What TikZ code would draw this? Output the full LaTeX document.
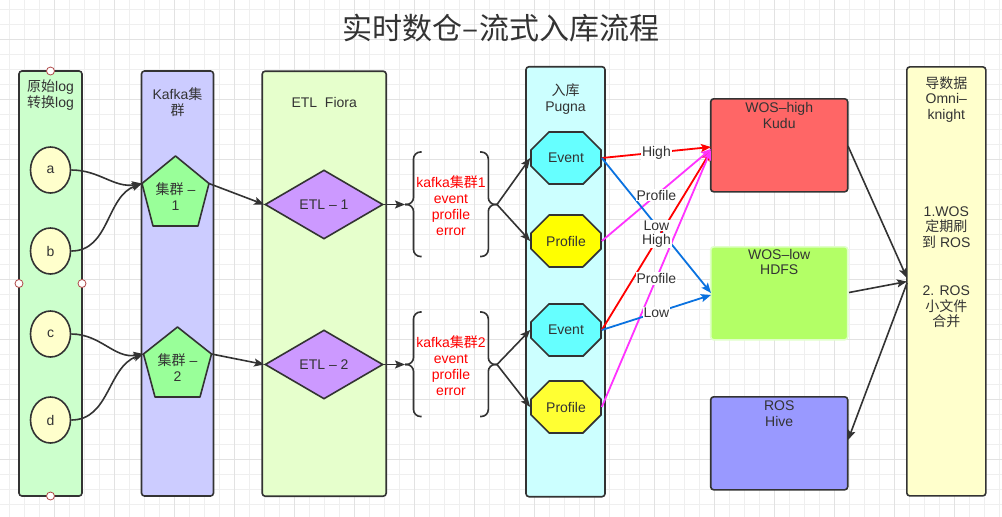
\documentclass[tikz,border=0pt]{standalone}
\usepackage{fontspec}
\setmainfont{Liberation Sans}
\newfontfamily\cjk{Noto Sans CJK SC}
\usetikzlibrary{shapes.geometric,shapes.misc,arrows.meta,calc}
\definecolor{ink}{HTML}{333333}
\definecolor{gridminor}{HTML}{EFEFEF}
\definecolor{gridmajor}{HTML}{E2E2E2}
\definecolor{cA}{HTML}{CCFFCC}
\definecolor{cB}{HTML}{CCCCFF}
\definecolor{cC}{HTML}{E6FFCC}
\definecolor{cD}{HTML}{CCFFFF}
\definecolor{cE}{HTML}{FFFFCC}
\definecolor{ellfill}{HTML}{FFFFCC}
\definecolor{pentfill}{HTML}{99FF99}
\definecolor{diafill}{HTML}{CC99FF}
\definecolor{evfill}{HTML}{66FFFF}
\definecolor{prfill}{HTML}{FFFF00}
\definecolor{prfillb}{HTML}{FFFF33}
\definecolor{hifill}{HTML}{FF6666}
\definecolor{lofill}{HTML}{B3FF66}
\definecolor{lodraw}{HTML}{E0FFC8}
\definecolor{rofill}{HTML}{9999FF}
\definecolor{redline}{HTML}{FF0000}
\definecolor{magline}{HTML}{FF33FF}
\definecolor{blueline}{HTML}{0A72E0}
\definecolor{handlered}{HTML}{B04848}
\tikzset{
  base/.style={draw=ink, line width=1.6pt, text=ink, font=\fontsize{14}{16}\selectfont},
  colbox/.style={base, rectangle, rounded corners=3pt, inner sep=0pt},
  txt/.style={text=ink, font=\fontsize{14}{15.8}\selectfont, align=center, inner sep=0pt},
  redtxt/.style={text=redline, font=\fontsize{14}{15.8}\selectfont, align=center, inner sep=0pt},
  ell/.style={base, ellipse, minimum width=40pt, minimum height=46pt, inner sep=0pt, fill=ellfill},
  pent/.style={draw=ink, line width=1.6pt, fill=pentfill, line join=round},
  dia/.style={base, diamond, minimum width=118pt, minimum height=69pt, inner sep=0pt, fill=diafill},
  oct/.style={base, chamfered rectangle, chamfered rectangle xsep=13pt, chamfered rectangle ysep=13pt, minimum width=70pt, minimum height=52pt, inner sep=0pt},
  wbox/.style={base, rectangle, rounded corners=3pt, minimum width=137pt, minimum height=93pt, inner sep=0pt},
  arr/.style={draw=ink, line width=1.6pt, -{Stealth[length=10pt,width=8pt,inset=2pt]}},
  carr/.style={line width=1.8pt, -{Stealth[length=10pt,width=8pt,inset=2pt]}},
  lab/.style={fill=white, text=ink, font=\fontsize{14}{16}\selectfont, inner sep=1pt},
  bracepath/.style={draw=ink, line width=1.6pt, rounded corners=7pt},
  handle/.style={circle, draw=handlered, fill=white, line width=0.8pt, minimum size=8pt, inner sep=0pt},
}
\begin{document}
\begin{tikzpicture}[x=1pt,y=-1pt]
\useasboundingbox (0,0) rectangle (1002,517);
\fill[white] (0,0) rectangle (1002,517);
% grid
\foreach \i in {0,...,66} {\draw[gridminor, line width=0.8pt] ({9.3+15*\i},0) -- ({9.3+15*\i},517);}
\foreach \i in {0,...,34} {\draw[gridminor, line width=0.8pt] (0,{9.3+15*\i}) -- (1002,{9.3+15*\i});}
\foreach \i in {0,...,16} {\draw[gridmajor, line width=0.9pt] ({54.3+60*\i},0) -- ({54.3+60*\i},517);}
\foreach \i in {0,...,8} {\draw[gridmajor, line width=0.9pt] (0,{39.3+60*\i}) -- (1002,{39.3+60*\i});}

% title
\node[text=ink, inner sep=0pt, font=\cjk\fontsize{30}{34}\selectfont] (title) at (501,28) {实时数仓–流式入库流程};

% columns
\node[colbox, fill=cA, minimum width=63pt, minimum height=425pt] (col1) at (50.5,283.5) {};
\node[colbox, fill=cB, minimum width=72pt, minimum height=425pt] (col2) at (177.5,283.5) {};
\node[colbox, fill=cC, minimum width=124pt, minimum height=425pt] (col3) at (324.2,283.7) {};
\node[colbox, fill=cD, minimum width=79pt, minimum height=430pt] (col4) at (565.5,281.7) {};
\node[colbox, fill=cE, minimum width=79pt, minimum height=429pt] (col5) at (946.3,281.4) {};

\node[txt] (col1t) at (50.5,94.7) {{\cjk 原始}log\\{\cjk 转换}log};
\node[txt] (col2t) at (177.5,102.5) {Kafka{\cjk 集}\\{\cjk 群}};
\node[txt] (col3t) at (324.2,102.3) {ETL~~Fiora};
\node[txt] (col4t) at (565.5,99) {{\cjk 入库}\\Pugna};
\node[txt] (col5t) at (946.3,99.5) {{\cjk 导数据}\\Omni–\\knight};
\node[txt] (col5a) at (946.3,227.5) {1.WOS\\{\cjk 定期刷}\\{\cjk 到} ROS};
\node[txt] (col5b) at (946.3,306.8) {2. ROS\\{\cjk 小文件}\\{\cjk 合并}};

% selection handles
\node[handle] (h1) at (50.5,71) {};
\node[handle] (h2) at (19,283.5) {};
\node[handle] (h3) at (82,283.5) {};
\node[handle] (h4) at (50.5,496) {};

% ellipses
\node[ell] (a) at (50.5,170) {a};
\node[ell] (b) at (50.5,251) {b};
\node[ell] (c) at (50.5,334) {c};
\node[ell] (d) at (50.5,420) {d};

% pentagons
\draw[pent] (175.5,156) -- (142,183.5) -- (153,226) -- (198,226) -- (209,183.5) -- cycle;
\coordinate (p1w) at (142,183.5);
\coordinate (p1e) at (209,183.5);
\node[txt] (p1) at (175.5,196.3) {{\cjk 集群} –\\1};
\draw[pent] (177.5,327) -- (143.5,354) -- (155,397) -- (200,397) -- (211.5,354) -- cycle;
\coordinate (p2w) at (143.5,354);
\coordinate (p2e) at (211.5,354);
\node[txt] (p2) at (177.5,367.7) {{\cjk 集群} –\\2};

% diamonds
\node[dia] (e1) at (324,204.5) {ETL – 1};
\node[dia] (e2) at (324,364.5) {ETL – 2};

% braces
\draw[bracepath] (421.5,152) -- (413.5,152) -- (413.5,204.5) -- (405,204.5);
\draw[bracepath] (405,204.5) -- (413.5,204.5) -- (413.5,256.5) -- (421.5,256.5);
\draw[bracepath] (480,152) -- (488.3,152) -- (488.3,204.5) -- (497,204.5);
\draw[bracepath] (497,204.5) -- (488.3,204.5) -- (488.3,256.5) -- (480,256.5);
\coordinate (b1l) at (405,204.5);
\coordinate (b1r) at (497,204.5);
\draw[bracepath] (421.5,312) -- (413.5,312) -- (413.5,364.5) -- (405,364.5);
\draw[bracepath] (405,364.5) -- (413.5,364.5) -- (413.5,416.5) -- (421.5,416.5);
\draw[bracepath] (480,312) -- (488.3,312) -- (488.3,364.5) -- (497,364.5);
\draw[bracepath] (497,364.5) -- (488.3,364.5) -- (488.3,416.5) -- (480,416.5);
\coordinate (b2l) at (405,364.5);
\coordinate (b2r) at (497,364.5);
\node[redtxt] (k1) at (451,205.5) {kafka{\cjk 集群}1\\event\\profile\\error};
\node[redtxt] (k2) at (451,365.5) {kafka{\cjk 集群}2\\event\\profile\\error};

% octagons
\node[oct, fill=evfill] (ev1) at (566,158) {Event};
\node[oct, fill=prfill] (pr1) at (566,241) {Profile};
\node[oct, fill=evfill] (ev2) at (566,330) {Event};
\node[oct, fill=prfillb] (pr2) at (566,407) {Profile};

% storage boxes
\node[wbox, fill=hifill] (hi) at (779.2,145.3) {};
\node[txt] (hit) at (779.2,115.3) {WOS–high\\Kudu};
\node[wbox, fill=lofill, draw=lodraw] (lo) at (779.2,293.3) {};
\node[txt] (lot) at (779.2,262) {WOS–low\\HDFS};
\node[wbox, fill=rofill] (ro) at (779.2,443.3) {};
\node[txt] (rot) at (779.2,413.7) {ROS\\Hive};

% black connectors
\draw[arr] (a.east) to[out=0,in=190] (p1w);
\draw[arr] (b.east) to[out=0,in=200] (p1w);
\draw[arr] (c.east) to[out=0,in=190] (p2w);
\draw[arr] (d.east) to[out=0,in=200] (p2w);
\draw[arr] (p1e) -- (e1.west);
\draw[arr] (p2e) -- (e2.west);
\draw[arr] (e1.east) -- (b1l);
\draw[arr] (e2.east) -- (b2l);
\draw[arr] (b1r) -- (ev1.west);
\draw[arr] (b1r) -- (pr1.west);
\draw[arr] (b2r) -- (ev2.west);
\draw[arr] (b2r) -- (pr2.west);

% coloured connectors
\coordinate (hA) at (711,147);
\coordinate (hB) at (711,149);
\coordinate (hC) at (711,151);
\coordinate (hD) at (711,150);
\coordinate (lA) at (711,293);
\coordinate (lB) at (711,295);
\draw[carr, draw=redline, fill=redline] (ev1.east) -- (hA);
\draw[carr, draw=magline] (pr1.east) -- (hB);
\draw[carr, draw=blueline] (ev1.east) -- (lA);
\draw[carr, draw=redline] (ev2.east) -- (hC);
\draw[carr, draw=magline] (pr2.east) -- (hD);
\draw[carr, draw=blueline] (ev2.east) -- (lB);
\node[lab] (l1) at ($(ev1.east)!0.5!(hA)$) {High};
\node[lab] (l2) at ($(pr1.east)!0.5!(hB)$) {Profile};
\node[lab] (l3) at ($(ev1.east)!0.5!(lA)$) {Low};
\node[lab] (l4) at ($(ev2.east)!0.5!(hC)$) {High};
\node[lab] (l5) at ($(pr2.east)!0.5!(hD)$) {Profile};
\node[lab] (l6) at ($(ev2.east)!0.5!(lB)$) {Low};

% right side connectors
\coordinate (hiE) at (848,146);
\coordinate (loE) at (849,292.5);
\coordinate (roE) at (848,440);
\coordinate (c5a) at (907,278);
\coordinate (c5b) at (907,281.5);
\coordinate (c5c) at (907,283);
\draw[arr] (hiE) -- (c5a);
\draw[arr] (loE) -- (c5b);
\draw[arr] (c5c) -- (roE);
\end{tikzpicture}
\end{document}
